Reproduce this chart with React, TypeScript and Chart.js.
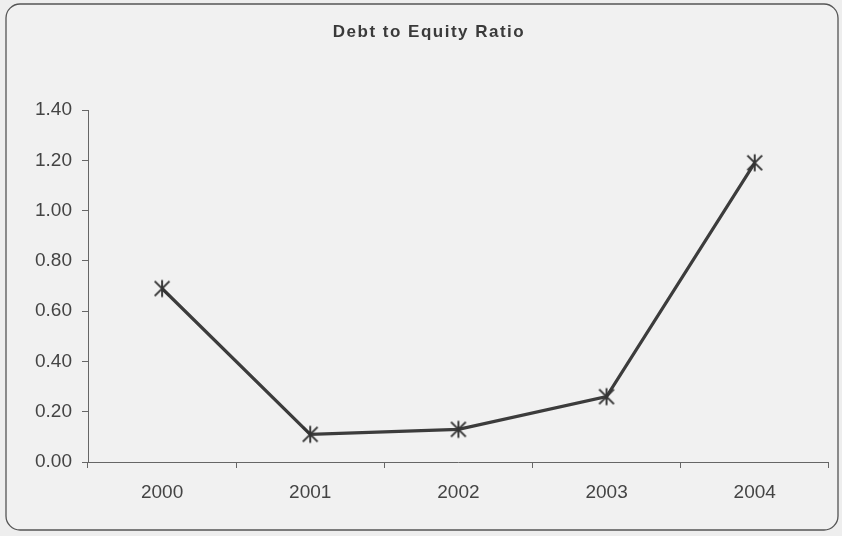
import React, { useEffect, useRef } from "react";
import { Chart, registerables } from "chart.js";

Chart.register(...registerables);

const categories = ["2000", "2001", "2002", "2003", "2004"];
const debtToEquity = [0.69, 0.11, 0.13, 0.26, 1.19];
const yTicks = [0, 0.2, 0.4, 0.6, 0.8, 1.0, 1.2, 1.4];
const titleText = "Debt to Equity Ratio";

function makeStar(): HTMLCanvasElement {
  const c = document.createElement("canvas");
  const s = 20;
  c.width = s;
  c.height = s;
  const ctx = c.getContext("2d")!;
  ctx.strokeStyle = "#333";
  ctx.lineWidth = 1.9;
  const m = s / 2;
  const r = 8.5;
  ctx.beginPath();
  ctx.moveTo(m - r * 0.87, m - r * 0.87);
  ctx.lineTo(m + r * 0.87, m + r * 0.87);
  ctx.moveTo(m + r * 0.87, m - r * 0.87);
  ctx.lineTo(m - r * 0.87, m + r * 0.87);
  ctx.moveTo(m, m - r);
  ctx.lineTo(m, m + r);
  ctx.stroke();
  return c;
}

const framePlugin = {
  id: "frame",
  beforeDraw(chart: any) {
    const ctx = chart.ctx;
    ctx.save();
    ctx.fillStyle = "#eeeeee";
    ctx.fillRect(0, 0, chart.width, chart.height);
    const x = 6, y = 4, w = 832, h = 526, r = 14;
    ctx.beginPath();
    ctx.roundRect(x, y, w, h, r);
    ctx.fillStyle = "#f1f1f1";
    ctx.fill();
    ctx.strokeStyle = "#555";
    ctx.lineWidth = 1.3;
    ctx.stroke();
    ctx.font = "bold 17px 'Liberation Sans', Arial, sans-serif";
    ctx.fillStyle = "#3a3a3a";
    ctx.textAlign = "center";
    ctx.textBaseline = "middle";
    try { (ctx as any).letterSpacing = "1.5px"; } catch (e) {}
    ctx.fillText(titleText, 429, 32);
    ctx.restore();
  },
};

export default function App() {
  const ref = useRef<HTMLCanvasElement | null>(null);
  useEffect(() => {
    document.body.style.margin = "0";
    const star = makeStar();
    const chart = new Chart(ref.current!, {
      type: "line",
      data: {
        labels: categories,
        datasets: [
          {
            label: "Debt to Equity Ratio",
            data: debtToEquity,
            borderColor: "#3c3c3c",
            borderWidth: 3.2,
            pointStyle: star as any,
            pointRadius: 10,
            tension: 0,
          },
        ],
      },
      options: {
        animation: false,
        responsive: false,
        layout: { padding: { top: 110, right: 8, left: 0, bottom: 0 } },
        plugins: { legend: { display: false }, tooltip: { enabled: false } },
        scales: {
          x: {
            offset: true,
            grid: { offset: true, drawOnChartArea: false, drawTicks: true, tickLength: 6, color: "#666" },
            border: { display: true, color: "#666", width: 1 },
            ticks: {
              color: "#444",
              padding: 13,
              font: { family: "'Liberation Sans', Arial, sans-serif", size: 19 },
              maxRotation: 0,
            },
            afterFit: (s: any) => { s.height = 74; },
          },
          y: {
            min: 0,
            max: 1.4,
            afterBuildTicks: (s: any) => { s.ticks = yTicks.map((v) => ({ value: v })); },
            grid: { drawOnChartArea: false, drawTicks: true, tickLength: 6, color: "#666" },
            border: { display: true, color: "#666", width: 1 },
            ticks: {
              color: "#444",
              padding: 10,
              font: { family: "'Liberation Sans', Arial, sans-serif", size: 19 },
              callback: (v: any) => Number(v).toFixed(2),
            },
            afterFit: (s: any) => { s.width = 88; },
          },
        },
      },
      plugins: [framePlugin],
    });
    return () => chart.destroy();
  }, []);
  return (
    <div style={{ position: "fixed", left: 0, top: 0, width: 842, height: 536 }}>
      <canvas ref={ref} width={842} height={536} />
    </div>
  );
}
